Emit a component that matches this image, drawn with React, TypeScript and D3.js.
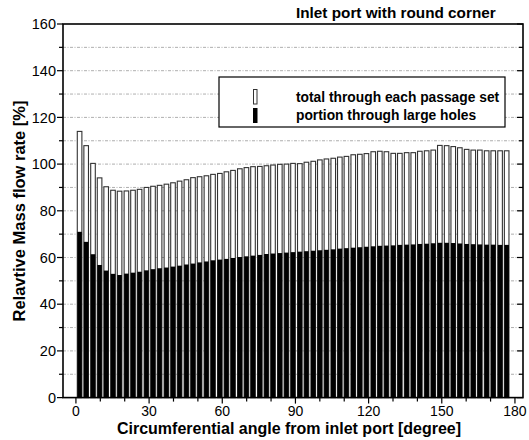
import React, { useEffect, useRef } from 'react';
import * as d3 from 'd3';

// angle of each passage set [degree]
const angles = [
  1.5, 4.2, 7.0, 9.7, 12.4, 15.2, 17.9, 20.7, 23.4, 26.1, 28.9, 31.6, 34.3,
  37.1, 39.8, 42.5, 45.3, 48.0, 50.7, 53.5, 56.2, 59.0, 61.7, 64.4, 67.2, 69.9,
  72.6, 75.4, 78.1, 80.8, 83.6, 86.3, 89.0, 91.8, 94.5, 97.3, 100.0, 102.7,
  105.5, 108.2, 110.9, 113.7, 116.4, 119.1, 121.9, 124.6, 127.3, 130.1, 132.8,
  135.6, 138.3, 141.0, 143.8, 146.5, 149.2, 152.0, 154.7, 157.4, 160.2, 162.9,
  165.6, 168.4, 171.1, 173.9, 176.6,
];

// total through each passage set [%]
const totalFlow = [
  114.0, 107.9, 100.3, 94.1, 90.3, 88.8, 88.4, 88.5, 88.8, 89.2, 90.0, 90.5,
  90.9, 91.4, 92.0, 92.7, 93.3, 94.2, 94.6, 95.0, 95.6, 96.0, 96.7, 97.3, 98.0,
  98.5, 98.9, 99.0, 99.3, 99.6, 99.9, 100.0, 100.3, 100.2, 100.8, 101.2, 101.8,
  102.2, 102.5, 103.0, 103.3, 104.0, 104.2, 104.5, 105.3, 105.5, 105.3, 104.6,
  104.6, 104.9, 104.9, 105.5, 105.7, 106.0, 108.0, 107.9, 107.5, 107.0, 106.3,
  106.0, 106.0, 105.7, 105.7, 105.7, 105.7,
];

// portion through large holes [%]
const largeHoleFlow = [
  71.0, 66.7, 61.4, 56.8, 54.4, 53.0, 52.5, 53.1, 53.5, 53.9, 54.5, 55.0, 55.4,
  55.7, 56.1, 56.5, 57.0, 57.4, 57.9, 58.3, 58.8, 59.1, 59.4, 59.8, 60.2, 60.5,
  60.8, 61.1, 61.5, 61.7, 61.9, 62.1, 62.3, 62.5, 62.7, 62.9, 63.1, 63.3, 63.5,
  63.8, 64.0, 64.2, 64.4, 64.6, 64.8, 65.0, 65.1, 65.2, 65.4, 65.5, 65.6, 65.8,
  65.9, 66.1, 66.3, 66.3, 66.2, 66.0, 65.8, 65.7, 65.6, 65.5, 65.5, 65.4, 65.4,
];

const xMinorTicks = [0, 10, 20, 30, 40, 50, 60, 70, 80, 90, 100, 110, 120, 130, 140, 150, 160, 170, 180];
const xLabelTicks = [0, 30, 60, 90, 120, 150, 180];
const yMinorTicks = [10, 30, 50, 70, 90, 110, 130, 150];
const yLabelTicks = [0, 20, 40, 60, 80, 100, 120, 140, 160];
const gridValues = [10, 20, 30, 40, 50, 60, 70, 80, 90, 100, 110, 120, 130, 140, 150];

const title = 'Inlet port with round corner';
const legendLabels = ['total through each passage set', 'portion through large holes'];
const xTitle = 'Circumferential angle from inlet port [degree]';
const yTitle = 'Relavtive Mass flow rate [%]';

const font = '"Liberation Sans", Arial, sans-serif';

export default function App() {
  const ref = useRef<SVGSVGElement>(null);

  useEffect(() => {
    const width = 529;
    const height = 440;
    const plot = { left: 63, right: 523, top: 24, bottom: 397.6 };

    const svg = d3.select(ref.current);
    svg.selectAll('*').remove();

    const xScale = d3.scaleLinear().domain([-5.3, 183.3]).range([plot.left, plot.right]);
    const yScale = d3.scaleLinear().domain([0, 160]).range([plot.bottom, plot.top]);
    const barWidth = 4.6;

    svg.append('rect').attr('width', width).attr('height', height).attr('fill', '#fff');

    // dash-dot grid
    svg
      .append('g')
      .selectAll('line')
      .data(gridValues)
      .enter()
      .append('line')
      .attr('x1', plot.left)
      .attr('x2', plot.right)
      .attr('y1', (d) => yScale(d))
      .attr('y2', (d) => yScale(d))
      .attr('stroke', '#999')
      .attr('stroke-width', 0.8)
      .attr('stroke-dasharray', '3,1.5,1,1.5');

    const idx = d3.range(angles.length);

    svg
      .append('g')
      .selectAll('rect')
      .data(idx)
      .enter()
      .append('rect')
      .attr('x', (i) => xScale(angles[i]) - barWidth / 2)
      .attr('y', (i) => yScale(totalFlow[i]))
      .attr('width', barWidth)
      .attr('height', (i) => yScale(0) - yScale(totalFlow[i]))
      .attr('fill', '#fff')
      .attr('stroke', '#333')
      .attr('stroke-width', 1.1);

    svg
      .append('g')
      .selectAll('rect')
      .data(idx)
      .enter()
      .append('rect')
      .attr('x', (i) => xScale(angles[i]) - barWidth / 2)
      .attr('y', (i) => yScale(largeHoleFlow[i]))
      .attr('width', barWidth)
      .attr('height', (i) => yScale(0) - yScale(largeHoleFlow[i]))
      .attr('fill', '#000');

    // frame
    svg
      .append('rect')
      .attr('x', plot.left)
      .attr('y', plot.top)
      .attr('width', plot.right - plot.left)
      .attr('height', plot.bottom - plot.top)
      .attr('fill', 'none')
      .attr('stroke', '#000')
      .attr('stroke-width', 1.6);

    // y ticks (outside left, inside right)
    const yt = svg.append('g').attr('stroke', '#000').attr('stroke-width', 1.2);
    yLabelTicks.forEach((v) => {
      yt.append('line').attr('x1', plot.left - 6).attr('x2', plot.left).attr('y1', yScale(v)).attr('y2', yScale(v));
      yt.append('line').attr('x1', plot.right - 6).attr('x2', plot.right).attr('y1', yScale(v)).attr('y2', yScale(v));
    });
    yMinorTicks.forEach((v) => {
      yt.append('line').attr('x1', plot.left - 4).attr('x2', plot.left).attr('y1', yScale(v)).attr('y2', yScale(v));
      yt.append('line').attr('x1', plot.right - 4).attr('x2', plot.right).attr('y1', yScale(v)).attr('y2', yScale(v));
    });

    svg
      .append('g')
      .selectAll('text')
      .data(yLabelTicks)
      .enter()
      .append('text')
      .attr('x', plot.left - 7)
      .attr('y', (d) => yScale(d))
      .attr('dy', '0.36em')
      .attr('text-anchor', 'end')
      .attr('font-family', font)
      .attr('font-size', 14.5)
      .text((d) => d);

    // x ticks
    svg
      .append('g')
      .selectAll('line')
      .data(xMinorTicks)
      .enter()
      .append('line')
      .attr('x1', (d) => xScale(d))
      .attr('x2', (d) => xScale(d))
      .attr('y1', plot.bottom)
      .attr('y2', (d) => plot.bottom + (d % 30 === 0 ? 6 : 4))
      .attr('stroke', '#000')
      .attr('stroke-width', 1.2);

    svg
      .append('g')
      .selectAll('text')
      .data(xLabelTicks)
      .enter()
      .append('text')
      .attr('x', (d) => xScale(d))
      .attr('y', 415.5)
      .attr('text-anchor', 'middle')
      .attr('font-family', font)
      .attr('font-size', 14)
      .text((d) => d);

    // titles
    svg
      .append('text')
      .attr('x', 296)
      .attr('y', 18)
      .attr('font-family', font)
      .attr('font-weight', 'bold')
      .attr('font-size', 15.3)
      .text(title);

    svg
      .append('text')
      .attr('x', 289)
      .attr('y', 433.5)
      .attr('text-anchor', 'middle')
      .attr('font-family', font)
      .attr('font-weight', 'bold')
      .attr('font-size', 16)
      .text(xTitle);

    svg
      .append('text')
      .attr('transform', 'translate(25,211) rotate(-90)')
      .attr('text-anchor', 'middle')
      .attr('font-family', font)
      .attr('font-weight', 'bold')
      .attr('font-size', 16.5)
      .text(yTitle);

    // legend
    const lg = svg.append('g');
    lg.append('rect')
      .attr('x', 219)
      .attr('y', 77)
      .attr('width', 286)
      .attr('height', 50)
      .attr('fill', '#fff')
      .attr('stroke', '#000')
      .attr('stroke-width', 1.2);
    lg.append('rect')
      .attr('x', 253.5)
      .attr('y', 89.5)
      .attr('width', 3.5)
      .attr('height', 14.5)
      .attr('fill', '#fff')
      .attr('stroke', '#333')
      .attr('stroke-width', 1);
    lg.append('rect')
      .attr('x', 253)
      .attr('y', 108)
      .attr('width', 4.5)
      .attr('height', 15)
      .attr('fill', '#000');
    lg.selectAll('text')
      .data(legendLabels)
      .enter()
      .append('text')
      .attr('x', 296)
      .attr('y', (d, i) => 101.5 + i * 18)
      .attr('font-family', font)
      .attr('font-weight', 'bold')
      .attr('font-size', 13.8)
      .text((d) => d);
  }, []);

  return (
    <svg
      ref={ref}
      width={529}
      height={440}
      style={{ position: 'absolute', left: 0, top: 0 }}
    />
  );
}
